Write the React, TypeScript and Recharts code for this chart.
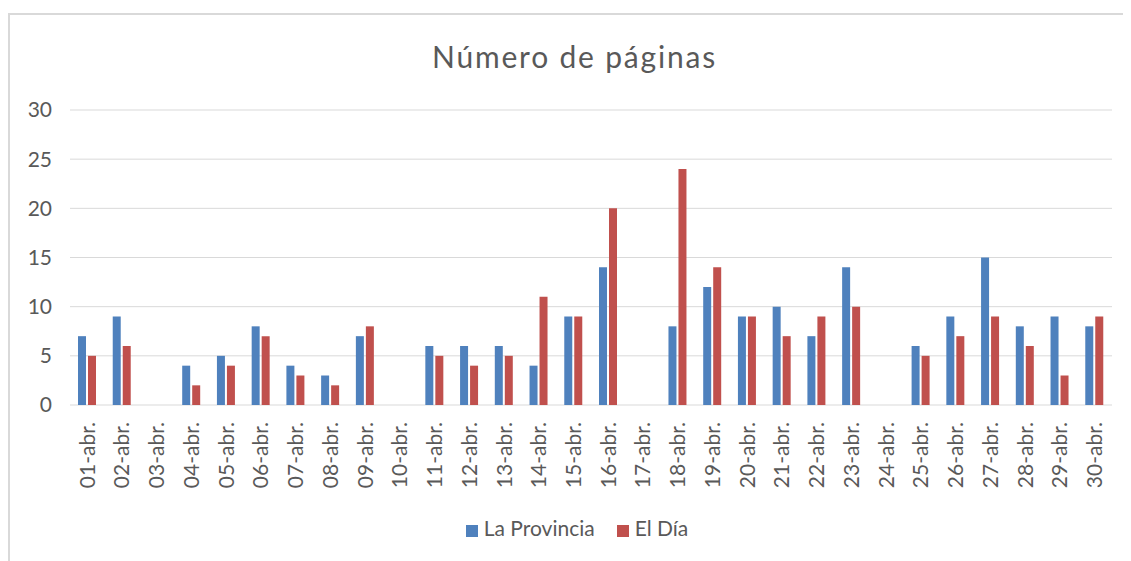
import React from 'react';
import { BarChart, Bar, XAxis, YAxis, CartesianGrid, Legend } from 'recharts';

const categories = [
  '01-abr.', '02-abr.', '03-abr.', '04-abr.', '05-abr.', '06-abr.', '07-abr.', '08-abr.', '09-abr.', '10-abr.',
  '11-abr.', '12-abr.', '13-abr.', '14-abr.', '15-abr.', '16-abr.', '17-abr.', '18-abr.', '19-abr.', '20-abr.',
  '21-abr.', '22-abr.', '23-abr.', '24-abr.', '25-abr.', '26-abr.', '27-abr.', '28-abr.', '29-abr.', '30-abr.',
];
const laProvincia = [7, 9, 0, 4, 5, 8, 4, 3, 7, 0, 6, 6, 6, 4, 9, 14, 0, 8, 12, 9, 10, 7, 14, 0, 6, 9, 15, 8, 9, 8];
const elDia = [5, 6, 0, 2, 4, 7, 3, 2, 8, 0, 5, 4, 5, 11, 9, 20, 0, 24, 14, 9, 7, 9, 10, 0, 5, 7, 9, 6, 3, 9];
const yTicks = [0, 5, 10, 15, 20, 25, 30];
const seriesNames = ['La Provincia', 'El Día'];
const title = 'Número de páginas';

const boundaries = categories.map((_, i) => i).concat(categories.length);
const data = categories.map((day, i) => ({ day, lp: laProvincia[i], ed: elDia[i] }));

const FONT = 'Lato, "Open Sans", sans-serif';
const TEXT = '#595959';
const GRID = '#d9d9d9';

const RotTick = (props: any) => {
  const { x, y, payload } = props;
  return (
    <g transform={`translate(${x},${y})`}>
      <text
        transform="rotate(-90)"
        x={-17}
        y={0}
        dy="0.35em"
        textAnchor="end"
        fill={TEXT}
        fontSize={21}
        fontFamily={FONT}
      >
        {payload.value}
      </text>
    </g>
  );
};

export default function App() {
  return (
    <div style={{ paddingTop: 5 }}>
      <div
        style={{
          position: 'relative',
          width: 1121,
          height: 546,
          borderLeft: `2px solid ${GRID}`,
          borderTop: `2px solid ${GRID}`,
          overflow: 'hidden',
          background: '#fff',
        }}
      >
        <div
          style={{
            position: 'absolute',
            left: 0,
            top: 23,
            width: 1129,
            textAlign: 'center',
            fontFamily: FONT,
            fontSize: 30,
            letterSpacing: 1.8,
            color: TEXT,
            lineHeight: '36px',
          }}
        >
          {title}
        </div>
        <BarChart
          width={1121}
          height={546}
          data={data}
          margin={{ top: 95, right: 19, left: 0, bottom: 18 }}
          barSize={8}
          barGap={2}
        >
          <CartesianGrid vertical={false} stroke={GRID} xAxisId="cat" yAxisId="y" />
          <XAxis
            xAxisId="grid"
            type="number"
            domain={[0, categories.length]}
            ticks={boundaries}
            allowDataOverflow
            tick={false}
            tickSize={8}
            tickLine={{ stroke: GRID }}
            axisLine={{ stroke: GRID }}
            height={0}
            interval={0}
          />
          <XAxis
            xAxisId="cat"
            dataKey="day"
            type="category"
            interval={0}
            tickLine={false}
            axisLine={false}
            tickSize={0}
            tickMargin={0}
            height={108}
            tick={<RotTick />}
          />
          <YAxis
            yAxisId="y"
            domain={[0, 30]}
            ticks={yTicks}
            width={60}
            axisLine={false}
            tickLine={false}
            tickSize={9}
            tickMargin={9}
            tick={{ fill: TEXT, fontSize: 21, fontFamily: FONT }}
          />
          <Legend
            iconType="square"
            iconSize={12}
            itemSorter={(item: any) => seriesNames.indexOf(item.value)}
            wrapperStyle={{ left: 27, height: 30, lineHeight: '30px', fontFamily: FONT, fontSize: 21 }}
            formatter={(value: string) => (
              <span style={{ color: TEXT, marginLeft: 2, marginRight: 12 }}>{value}</span>
            )}
          />
          <Bar
            xAxisId="cat"
            yAxisId="y"
            dataKey="lp"
            name={seriesNames[0]}
            fill="#4F81BD"
            isAnimationActive={false}
          />
          <Bar
            xAxisId="cat"
            yAxisId="y"
            dataKey="ed"
            name={seriesNames[1]}
            fill="#C0504D"
            isAnimationActive={false}
          />
        </BarChart>
      </div>
    </div>
  );
}
